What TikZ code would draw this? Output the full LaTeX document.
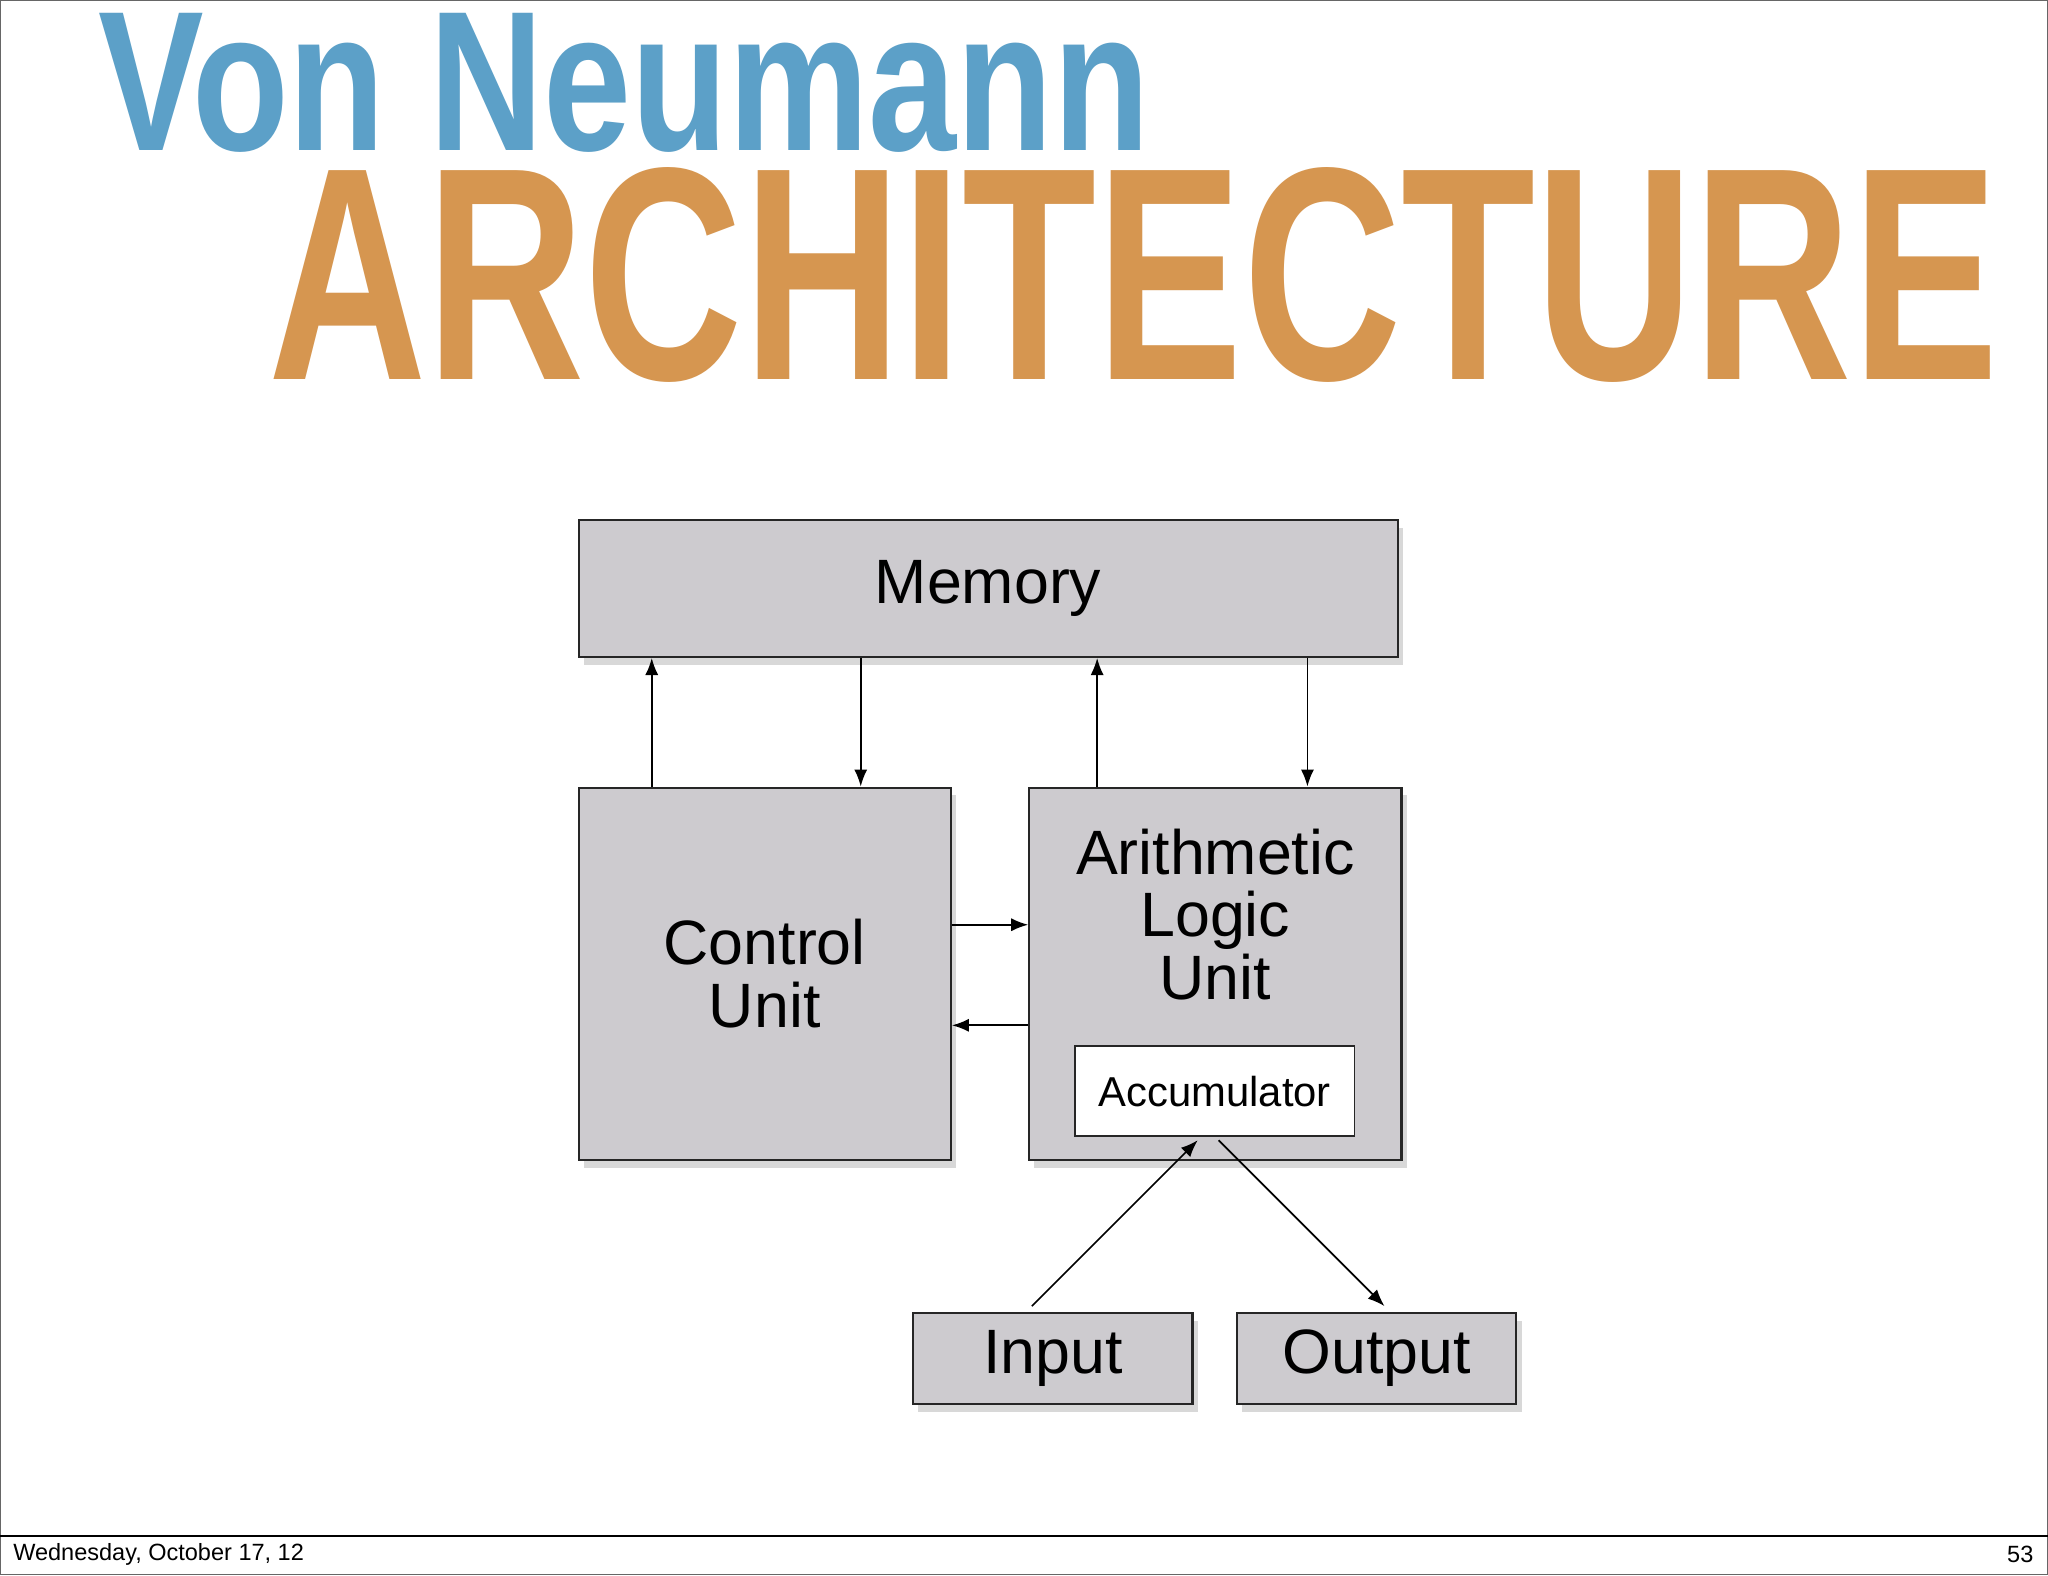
\documentclass[tikz,border=0pt]{standalone}
\usepackage{fontspec}
\setmainfont{Liberation Sans}
\usetikzlibrary{arrows.meta,shadows}
\definecolor{vnblue}{RGB}{92,160,200}
\definecolor{vnorange}{RGB}{214,150,80}
\definecolor{boxgray}{RGB}{205,203,207}
\tikzset{
  blk/.style={draw=black!85,line width=1.6pt,fill=boxgray,inner sep=0pt,
    drop shadow={shadow xshift=4pt,shadow yshift=-6pt,opacity=0.3}},
  acc/.style={draw=black!85,line width=1.4pt,fill=white,inner sep=0pt},
  conn/.style={line width=1.3pt,-{Latex[length=13pt,width=10pt]}},
  lbl/.style={font=\fontsize{48}{50}\selectfont,align=center}
}
\begin{document}
\begin{tikzpicture}[x=1pt,y=-1pt]
\useasboundingbox (0,0) rectangle (1568,1206);
\fill[white] (0,0) rectangle (1568,1206);
\draw[line width=1pt,black!60] (0.5,0.5) rectangle (1567.5,1205.5);
\draw[line width=1pt] (0,1176) -- (1568,1176);
\node[anchor=north west,inner sep=0pt,text=vnblue] (t1) at (75,10) {\resizebox{805pt}{105pt}{\bfseries Von Neumann}};
\node[anchor=north west,inner sep=0pt,text=vnorange] (t2) at (205,128) {\resizebox{1325pt}{162pt}{\bfseries ARCHITECTURE}};
\node[anchor=west,inner sep=0pt,font=\fontsize{18}{19}\selectfont] (d) at (10,1190) {Wednesday, October 17, 12};
\node[anchor=east,inner sep=0pt,font=\fontsize{18}{19}\selectfont] (p) at (1557,1190) {53};
% boxes
\node[blk,minimum width=627pt,minimum height=105pt,lbl] (mem) at (756.5,450.5) {\raisebox{3pt}{Memory}};
\node[blk,minimum width=285pt,minimum height=285pt,lbl] (cu) at (585.5,745.5) {Control\\[-2pt]Unit};
\node[blk,minimum width=285pt,minimum height=285pt] (alu) at (930.5,745.5) {};
\node[lbl] (alut) at (930.5,700) {Arithmetic\\[-2pt]Logic\\[-2pt]Unit};
\node[acc,minimum width=214pt,minimum height=69pt,font=\fontsize{32}{33}\selectfont] (ac) at (930,835.5) {Accumulator};
\node[blk,minimum width=214pt,minimum height=70pt,lbl] (in) at (806,1040) {Input};
\node[blk,minimum width=214pt,minimum height=70pt,lbl] (out) at (1054,1040) {Output};
% connectors
\draw[conn] (cu.north -| 499,0) -- (mem.south -| 499,0);
\draw[conn] (mem.south -| 659,0) -- (cu.north -| 659,0);
\draw[conn] (alu.north -| 840,0) -- (mem.south -| 840,0);
\draw[conn] (mem.south -| 1001,0) -- (alu.north -| 1001,0);
\draw[conn] (cu.east |- 0,708) -- (alu.west |- 0,708);
\draw[conn] (alu.west |- 0,785) -- (cu.east |- 0,785);
\coordinate (ia) at (790,1000);
\coordinate (ib) at (917,873);
\coordinate (oa) at (933,873);
\coordinate (ob) at (1060,1000);
\draw[conn] (ia) -- (ib);
\draw[conn] (oa) -- (ob);
\end{tikzpicture}
\end{document}
